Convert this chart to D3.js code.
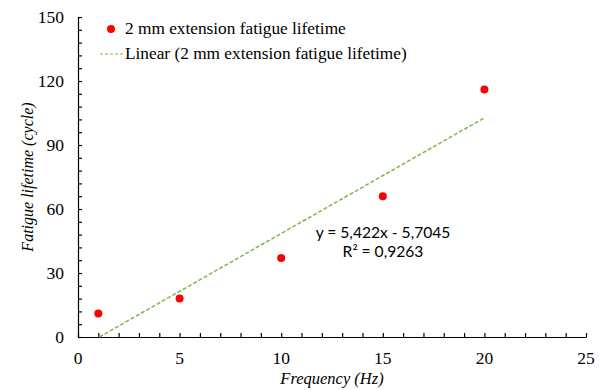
<!DOCTYPE html>
<html>
<head>
<meta charset="utf-8">
<script src="https://cdn.jsdelivr.net/npm/d3@7"></script>
<style>
  body { margin: 0; background: #fff; }
  text { font-family: "Liberation Serif", "DejaVu Serif", serif; fill: #000; }
</style>
</head>
<body>
<div id="chart"></div>
<script>
// data
const frequency = [1, 5, 10, 15, 20];
const lifetime = [11, 18, 37, 66, 116];
const xTicks = [0, 5, 10, 15, 20, 25];
const yTicks = [0, 30, 60, 90, 120, 150];
const seriesName = "2 mm extension fatigue lifetime";
const eqLabel = "y = 5,422x - 5,7045";
const r2Label = "R² = 0,9263";

const width = 600, height = 390;
const margin = {left: 78, right: 14, top: 17, bottom: 53};

const svg = d3.select("#chart").append("svg")
    .attr("width", width)
    .attr("height", height);

const x = d3.scaleLinear().domain([0, 25]).range([margin.left, width - margin.right]);
const y = d3.scaleLinear().domain([0, 150]).range([height - margin.bottom, margin.top]);

// least squares trend line
const n = frequency.length;
const mx = d3.mean(frequency), my = d3.mean(lifetime);
let sxy = 0, sxx = 0;
for (let i = 0; i < n; i++) {
    sxy += (frequency[i] - mx) * (lifetime[i] - my);
    sxx += (frequency[i] - mx) * (frequency[i] - mx);
}
const slope = sxy / sxx, intercept = my - slope * mx;
const xStart = -intercept / slope; // line starts where it hits y = 0
const trend = [[xStart, 0], [d3.max(frequency), slope * d3.max(frequency) + intercept]];

// axes, ticks point inward
const xAxis = d3.axisBottom(x).tickValues(d3.range(0, 26, 1)).tickSizeInner(-4).tickSizeOuter(0).tickFormat("");
const yAxis = d3.axisLeft(y).tickValues(d3.range(0, 151, 6)).tickSizeInner(-4).tickSizeOuter(0).tickFormat("");

svg.append("g").attr("transform", `translate(0,${y(0)})`).call(xAxis);
svg.append("g").attr("transform", `translate(${x(0)},0)`).call(yAxis);
svg.selectAll(".domain, .tick line").attr("stroke", "#000").attr("stroke-width", 1.2);

svg.append("g").selectAll("text")
    .data(xTicks).enter().append("text")
    .attr("x", d => x(d))
    .attr("y", y(0) + 27)
    .attr("text-anchor", "middle")
    .style("font-size", "17.5px")
    .text(d => d);

svg.append("g").selectAll("text")
    .data(yTicks).enter().append("text")
    .attr("x", x(0) - 14)
    .attr("y", d => y(d) + 6)
    .attr("text-anchor", "end")
    .style("font-size", "17.5px")
    .text(d => d);

// axis titles
svg.append("text")
    .attr("x", 332).attr("y", 384)
    .attr("text-anchor", "middle")
    .style("font-size", "16.5px").style("font-style", "italic")
    .text("Frequency (Hz)");

svg.append("text")
    .attr("transform", `translate(33,${(y(0) + y(150)) / 2}) rotate(-90)`)
    .attr("text-anchor", "middle")
    .style("font-size", "16px").style("font-style", "italic")
    .text("Fatigue lifetime (cycle)");

// trend line
svg.append("path")
    .datum(trend)
    .attr("d", d3.line().x(d => x(d[0])).y(d => y(d[1])))
    .attr("fill", "none")
    .attr("stroke", "#7fb650")
    .attr("stroke-width", 1.5)
    .attr("stroke-dasharray", "4,2");

// points
svg.append("g").selectAll("circle")
    .data(frequency).enter().append("circle")
    .attr("cx", (d, i) => x(d))
    .attr("cy", (d, i) => y(lifetime[i]))
    .attr("r", 4)
    .attr("fill", "#ff0000");

// legend
const leg = svg.append("g");
leg.append("circle").attr("cx", 111).attr("cy", 29).attr("r", 4).attr("fill", "#ff0000");
leg.append("text").attr("x", 125).attr("y", 34).style("font-size", "17.3px").text(seriesName);
leg.append("line").attr("x1", 100).attr("x2", 123).attr("y1", 54).attr("y2", 54)
    .attr("stroke", "#7fb650").attr("stroke-width", 1.2).attr("stroke-dasharray", "3,2");
leg.append("text").attr("x", 125).attr("y", 59).style("font-size", "17.3px").text("Linear (" + seriesName + ")");

// equation
svg.append("text").attr("x", 383).attr("y", 238).attr("text-anchor", "middle")
    .style("font-family", "Lato, 'Liberation Sans', sans-serif").style("font-size", "15.6px").text(eqLabel);
svg.append("text").attr("x", 383).attr("y", 257).attr("text-anchor", "middle")
    .style("font-family", "Lato, 'Liberation Sans', sans-serif").style("font-size", "15.6px").text(r2Label);
</script>
</body>
</html>
